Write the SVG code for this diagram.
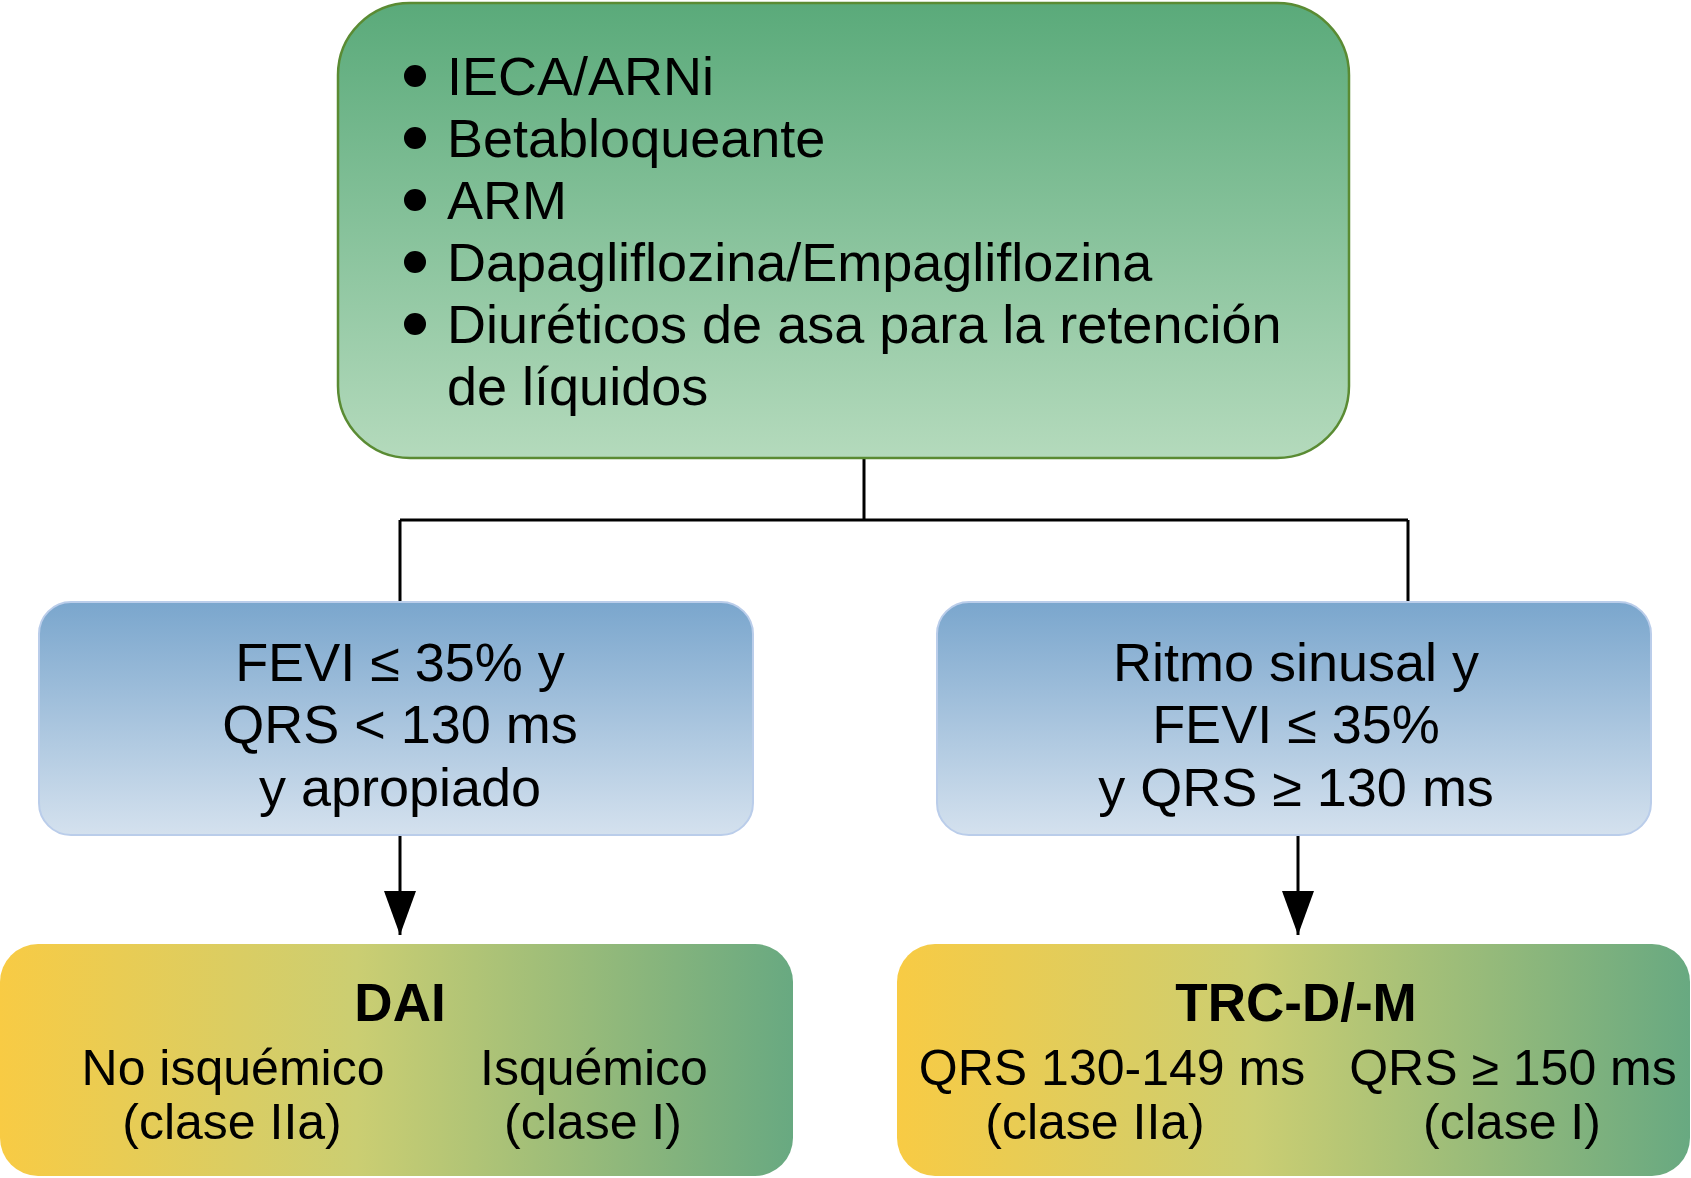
<svg xmlns="http://www.w3.org/2000/svg" width="1691" height="1178" viewBox="0 0 1691 1178">
<defs>
<linearGradient id="gTop" x1="0" y1="0" x2="0" y2="1">
<stop offset="0" stop-color="#5AAA7A"/>
<stop offset="1" stop-color="#B4DABC"/>
</linearGradient>
<linearGradient id="gBlue" x1="0" y1="0" x2="0" y2="1">
<stop offset="0" stop-color="#7AA6CD"/>
<stop offset="1" stop-color="#D4E1EE"/>
</linearGradient>
<linearGradient id="gBot" x1="0" y1="0" x2="1" y2="0">
<stop offset="0" stop-color="#F8CB44"/>
<stop offset="0.45" stop-color="#CBCE72"/>
<stop offset="1" stop-color="#68A981"/>
</linearGradient>
<marker id="arr" markerWidth="44" markerHeight="32" refX="44" refY="16" orient="auto" markerUnits="userSpaceOnUse" viewBox="0 0 44 32">
<path d="M0,0 L44,16 L0,32 Z" fill="#000"/>
</marker>
</defs>
<style>
text{font-family:"Liberation Sans",Arial,sans-serif;fill:#000}
.t{font-size:54px}
.c{font-size:54px;text-anchor:middle}
.b{font-size:50px;text-anchor:middle}
.h{font-size:53px;font-weight:bold;text-anchor:middle}
.ln{stroke:#000;stroke-width:3;fill:none}
</style>
<g id="connectors">
<path class="ln" d="M864,458 V520 M400,520 H1408 M400,520 V601 M1408,520 V601"/>
<line class="ln" x1="400" y1="835" x2="400" y2="935" marker-end="url(#arr)"/>
<line class="ln" x1="1298" y1="835" x2="1298" y2="935" marker-end="url(#arr)"/>
</g>
<g id="node-top">
<rect x="338" y="3" width="1011" height="455" rx="72" ry="72" fill="url(#gTop)" stroke="#5A8B33" stroke-width="2.5"/>
<circle cx="415" cy="76" r="11"/>
<circle cx="415" cy="138" r="11"/>
<circle cx="415" cy="200" r="11"/>
<circle cx="415" cy="262" r="11"/>
<circle cx="415" cy="324" r="11"/>
<text class="t" x="447" y="95">IECA/ARNi</text>
<text class="t" x="447" y="157">Betabloqueante</text>
<text class="t" x="447" y="219">ARM</text>
<text class="t" x="447" y="281">Dapagliflozina/Empagliflozina</text>
<text class="t" x="447" y="343">Diuréticos de asa para la retención</text>
<text class="t" x="447" y="405">de líquidos</text>
</g>
<g id="node-left">
<rect x="39" y="602" width="714" height="233" rx="32" ry="32" fill="url(#gBlue)" stroke="#BACDEA" stroke-width="2"/>
<text class="c" x="400" y="681">FEVI ≤ 35% y</text>
<text class="c" x="400" y="743">QRS &lt; 130 ms</text>
<text class="c" x="400" y="806">y apropiado</text>
</g>
<g id="node-right">
<rect x="937" y="602" width="714" height="233" rx="32" ry="32" fill="url(#gBlue)" stroke="#BACDEA" stroke-width="2"/>
<text class="c" x="1296" y="681">Ritmo sinusal y</text>
<text class="c" x="1296" y="743">FEVI ≤ 35%</text>
<text class="c" x="1296" y="806">y QRS ≥ 130 ms</text>
</g>
<g id="node-dai">
<rect x="0" y="944" width="793" height="232" rx="38" ry="38" fill="url(#gBot)"/>
<text class="h" x="400" y="1021">DAI</text>
<text class="b" x="233" y="1085">No isquémico</text>
<text class="b" x="232" y="1139">(clase IIa)</text>
<text class="b" x="594" y="1085">Isquémico</text>
<text class="b" x="593" y="1139">(clase I)</text>
</g>
<g id="node-trc">
<rect x="897" y="944" width="793" height="232" rx="38" ry="38" fill="url(#gBot)"/>
<text class="h" x="1296" y="1021">TRC-D/-M</text>
<text class="b" x="1112" y="1085">QRS 130-149 ms</text>
<text class="b" x="1095" y="1139">(clase IIa)</text>
<text class="b" x="1513" y="1085">QRS ≥ 150 ms</text>
<text class="b" x="1512" y="1139">(clase I)</text>
</g>
</svg>
